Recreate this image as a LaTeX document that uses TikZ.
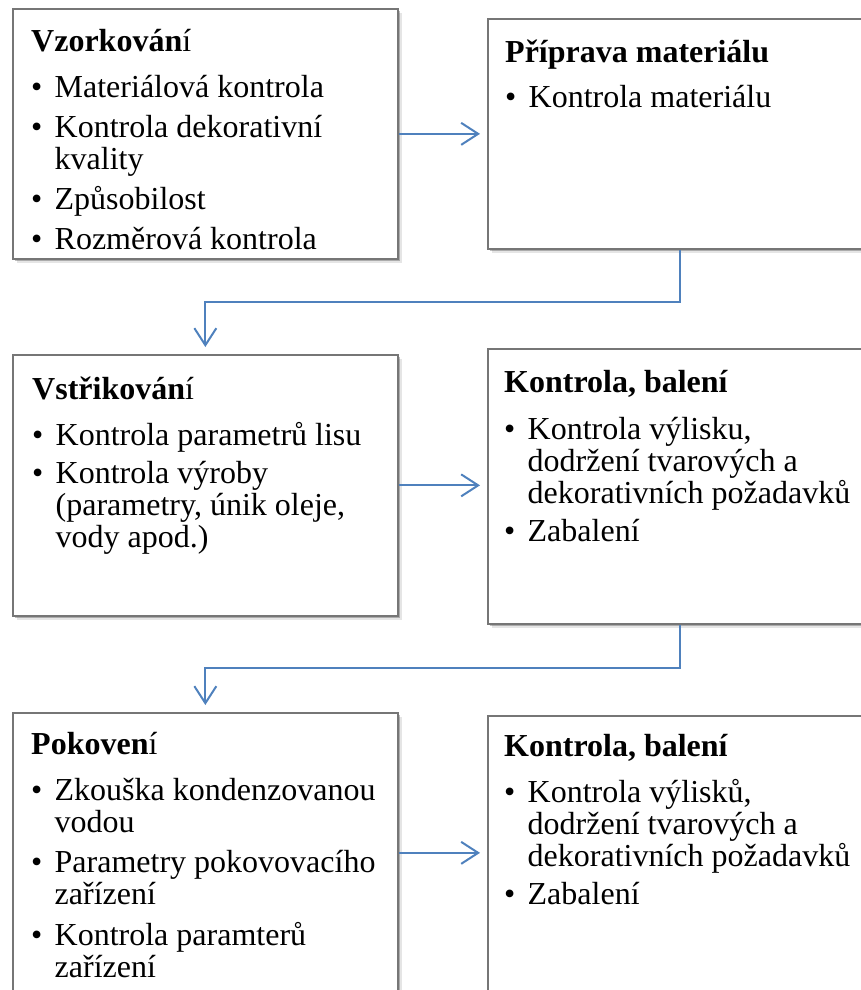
\documentclass[tikz,border=0pt]{standalone}
\usepackage{fontspec}
\setmainfont{Liberation Serif}
\usetikzlibrary{arrows.meta,shadows,calc}

\definecolor{linkblue}{RGB}{79,129,189}
\definecolor{boxgray}{RGB}{118,118,118}

% bullet with a fixed hanging indent
\newcommand{\bul}{\makebox[23.5pt][l]{•}}
\newcommand{\ind}{\hspace*{23.5pt}}
% text block: first baseline sits on the node's base anchor
\newcommand{\boxtext}[1]{\parbox[t]{350pt}{\fontsize{32}{32}\selectfont\lineskiplimit=-100pt\raggedright #1}}

\tikzset{
  stage/.style={draw=boxgray, line width=1.7pt, fill=white, rectangle,
    anchor=north west, inner sep=0pt,
    general shadow={shadow xshift=4pt, shadow yshift=-4pt, fill=black, opacity=0.10},
    general shadow={shadow xshift=2.5pt, shadow yshift=-2.5pt, fill=black, opacity=0.25}},
  stagetext/.style={anchor=base west, inner sep=0pt, text=black},
  conn/.style={draw=linkblue, line width=2pt,
    -{Straight Barb[length=17pt,width=22pt]}, shorten >=7pt},
}

\begin{document}
\begin{tikzpicture}[x=1pt, y=-1pt]
\useasboundingbox (0,0) rectangle (861,990);
\clip (0,0) rectangle (861,990);

% stage boxes
\node[stage, minimum width=385pt, minimum height=250pt] (b1) at (12,8) {};
\node[stage, minimum width=385pt, minimum height=230pt] (b2) at (487,18) {};
\node[stage, minimum width=385pt, minimum height=261pt] (b3) at (12,354) {};
\node[stage, minimum width=385pt, minimum height=275pt] (b4) at (487,348) {};
\node[stage, minimum width=385pt, minimum height=280pt] (b5) at (12,712) {};
\node[stage, minimum width=385pt, minimum height=280pt] (b6) at (487,715) {};

% box contents
\node[stagetext] (t1) at (31,52) {\boxtext{%
  {\bfseries Vzorkován}í\\[14pt]
  \bul Materiálová kontrola\\[8pt]
  \bul Kontrola dekorativní\\
  \ind kvality\\[8pt]
  \bul Způsobilost\\[8pt]
  \bul Rozměrová kontrola}};

\node[stagetext] (t2) at (505,63) {\boxtext{%
  {\bfseries Příprava materiálu}\\[13pt]
  \bul Kontrola materiálu}};

\node[stagetext] (t3) at (32,399) {\boxtext{%
  {\bfseries Vstřikován}í\\[14pt]
  \bul Kontrola parametrů lisu\\[6pt]
  \bul Kontrola výroby\\
  \ind (parametry, únik oleje,\\
  \ind vody apod.)}};

\node[stagetext] (t4) at (504,392) {\boxtext{%
  {\bfseries Kontrola, balení}\\[15pt]
  \bul Kontrola výlisku,\\
  \ind dodržení tvarových a\\
  \ind dekorativních požadavků\\[6pt]
  \bul Zabalení}};

\node[stagetext] (t5) at (31,754) {\boxtext{%
  {\bfseries Pokoven}í\\[14pt]
  \bul Zkouška kondenzovanou\\
  \ind vodou\\[8pt]
  \bul Parametry pokovovacího\\
  \ind zařízení\\[9pt]
  \bul Kontrola paramterů\\
  \ind zařízení}};

\node[stagetext] (t6) at (504,756) {\boxtext{%
  {\bfseries Kontrola, balení}\\[14pt]
  \bul Kontrola výlisků,\\
  \ind dodržení tvarových a\\
  \ind dekorativních požadavků\\[6pt]
  \bul Zabalení}};

% connectors
\draw[conn] (b1.east) -- (b1.east -| b2.west);
\draw[conn] (b3.east) -- (b3.east -| b4.west);
\draw[conn] (b5.east) -- (b5.east -| b6.west);
\draw[conn] (b2.south) |- ($(b2.south)!0.5!(b3.north)$) -| (b3.north);
\draw[conn] (b4.south) |- ($(b4.south)!0.5!(b5.north)$) -| (b5.north);
\end{tikzpicture}
\end{document}
